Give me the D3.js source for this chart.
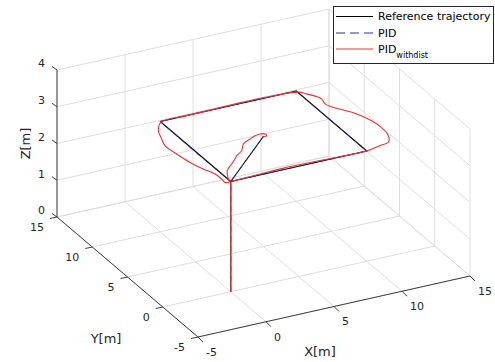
<!DOCTYPE html>
<html>
<head>
<meta charset="utf-8">
<script src="https://cdn.jsdelivr.net/npm/d3@7"></script>
<style>
  html, body { margin: 0; padding: 0; background: #fff; }
  svg { display: block; font-family: "DejaVu Sans", sans-serif; }
</style>
</head>
<body>
<svg id="chart" width="495" height="362"></svg>
<script>
// Axis ranges and tick values
const xTicks = [-5, 0, 5, 10, 15];
const yTicks = [-5, 0, 5, 10, 15];
const zTicks = [0, 1, 2, 3, 4];

// Reference trajectory: take-off, square at 3 m, then to the centre
const refX = [0, 0, 10, 10, 0, 0, 5];
const refY = [0, 0, 0, 10, 10, 0, 5];
const refZ = [0, 3, 3, 3, 3, 3, 3];

// PID tracking (no disturbance)
const pidX = [0, 0, 5, 10.05, 10, 10, 5, 0, -0.05, 0, 0, 2.5, 5];
const pidY = [0, 0, 0.02, 0, 0.05, 10, 10.03, 10, 5, 0, 0, 2.5, 5];
const pidZ = [0, 3, 3, 3, 3, 3, 3, 3, 3, 3, 3, 3, 3];

// PID tracking with disturbance: climb, then the horizontal flight
const climbX = [0, 0];
const climbY = [0, 0];
const climbZ = [0, 3];
const distX = [0, 2, 4, 6, 8, 10, 11.14, 11.85, 12.31, 12.43, 11.95, 11.03, 10.79, 10.94, 10.81, 10.41, 10.03,
  8, 6, 4, 2, 0, -0.74, -1.11, -1.38, -1.27, -1.07, -0.74, -0.40, -0.36, -0.40, -0.1,
  0.03, 0.54, 1.25, 1.70, 2.11, 2.74, 3.30, 4.03, 4.55, 4.95, 5.25, 5.23, 4.88];
const distY = [0, 0.1, 0.2, 0.15, 0.05, 0, 0.32, 0.51, 1.40, 3.28, 5.19, 6.77, 7.45, 8.21, 8.66, 9.31, 9.80,
  10.05, 10.1, 10.05, 10, 9.9, 8.84, 7.65, 6.67, 5.22, 3.72, 2.46, 1.45, 0.60, 0.05, 0.0,
  0.40, 1.53, 2.28, 2.75, 3.23, 3.74, 4.58, 5.04, 5.33, 5.41, 5.26, 4.98, 4.88];
const distZ = [3, 3, 3, 3, 3, 3, 3, 3, 3, 3, 3, 3, 3, 3, 3, 3, 3,
  3, 3, 3, 3, 3, 3, 3, 3, 3, 3, 3, 3, 3, 3, 3,
  3, 3, 3, 3, 3, 3, 3, 3, 3, 3, 3, 3, 3];

// Legend entries
const legendLabels = ["Reference trajectory", "PID", "PID"];

const svg = d3.select("#chart");

// Normalised axis scales and the projected box vectors
const sx = d3.scaleLinear().domain([-5, 15]).range([0, 1]);
const sy = d3.scaleLinear().domain([-5, 15]).range([0, 1]);
const sz = d3.scaleLinear().domain([0, 4]).range([0, 1]);
const O = [198, 337], AX = [272, -61], AY = [-141, -120], AZ = [0, -147];
function proj(x, y, z) {
  const u = sx(x), v = sy(y), w = sz(z);
  return [O[0] + u * AX[0] + v * AY[0] + w * AZ[0], O[1] + u * AX[1] + v * AY[1] + w * AZ[1]];
}
const line = d3.line();
const curve = d3.line().curve(d3.curveCatmullRom.alpha(0.5));

// Grid on floor and the two back walls
const grid = [];
xTicks.forEach(t => { grid.push([[t, -5, 0], [t, 15, 0]]); grid.push([[t, 15, 0], [t, 15, 4]]); });
yTicks.forEach(t => { grid.push([[-5, t, 0], [15, t, 0]]); grid.push([[15, t, 0], [15, t, 4]]); });
zTicks.forEach(t => { grid.push([[-5, 15, t], [15, 15, t]]); grid.push([[15, -5, t], [15, 15, t]]); });
svg.append("g").selectAll("path").data(grid).join("path")
  .attr("d", s => line(s.map(p => proj(...p))))
  .attr("fill", "none").attr("stroke", "#dedede").attr("stroke-width", 1);

// Axis lines
const axisCol = "#404040";
const axes = [[[-5, -5, 0], [15, -5, 0]], [[-5, -5, 0], [-5, 15, 0]], [[-5, 15, 0], [-5, 15, 4]]];
svg.append("g").selectAll("path").data(axes).join("path")
  .attr("d", s => line(s.map(p => proj(...p))))
  .attr("fill", "none").attr("stroke", axisCol).attr("stroke-width", 1);

const tickFont = 11;
const gt = svg.append("g").attr("fill", "#262626").attr("font-size", tickFont);
// X ticks
xTicks.forEach(t => {
  const [px, py] = proj(t, -5, 0);
  svg.append("line").attr("x1", px).attr("y1", py).attr("x2", px + 5).attr("y2", py + 5).attr("stroke", axisCol);
  gt.append("text").attr("x", px + 8).attr("y", py + 15).attr("dy", "0.35em").text(t);
});
// Y ticks
yTicks.forEach(t => {
  const [px, py] = proj(-5, t, 0);
  svg.append("line").attr("x1", px).attr("y1", py).attr("x2", px - 7).attr("y2", py + 1.5).attr("stroke", axisCol);
  gt.append("text").attr("x", px - 13).attr("y", py + 10.5).attr("dy", "0.35em").attr("text-anchor", "end").text(t);
});
// Z ticks
zTicks.forEach(t => {
  const [px, py] = proj(-5, 15, t);
  svg.append("line").attr("x1", px).attr("y1", py).attr("x2", px - 5).attr("y2", py - 3.5).attr("stroke", axisCol);
  gt.append("text").attr("x", px - 12).attr("y", py - 6.5).attr("dy", "0.35em").attr("text-anchor", "end").text(t);
});

// Axis titles
const labFont = 13;
const xm = proj(5, -5, 0), ym = proj(-5, 5, 0), zm = proj(-5, 15, 2);
gt.append("text").attr("x", xm[0] - 14).attr("y", xm[1] + 44.5).attr("dy", "0.35em")
  .attr("text-anchor", "middle").attr("font-size", labFont).text("X[m]");
gt.append("text").attr("x", ym[0] - 21.5).attr("y", ym[1] + 61).attr("dy", "0.35em")
  .attr("text-anchor", "middle").attr("font-size", labFont).text("Y[m]");
gt.append("text").attr("transform", `translate(${zm[0] - 32},${zm[1]}) rotate(-90)`).attr("dy", "0.35em")
  .attr("text-anchor", "middle").attr("font-size", labFont).text("Z[m]");

// Data series
const toPts = (xs, ys, zs) => xs.map((x, i) => proj(x, ys[i], zs[i]));
const refColor = "#000000", pidColor = "#2a2ab8", distColor = "#e8322f";

svg.append("path").attr("d", line(toPts(refX, refY, refZ)))
  .attr("fill", "none").attr("stroke", refColor).attr("stroke-width", 1.1).attr("stroke-linejoin", "round");
svg.append("path").attr("d", line(toPts(pidX, pidY, pidZ)))
  .attr("fill", "none").attr("stroke", pidColor).attr("stroke-width", 0.9)
  .attr("stroke-dasharray", "6,4").attr("stroke-linejoin", "round");
svg.append("path").attr("d", line(toPts(climbX, climbY, climbZ)))
  .attr("fill", "none").attr("stroke", distColor).attr("stroke-width", 1.1);
svg.append("path").attr("d", curve(toPts(distX, distY, distZ)))
  .attr("fill", "none").attr("stroke", distColor).attr("stroke-width", 1.1).attr("stroke-linejoin", "round");

// Legend
const legendColors = [refColor, pidColor, distColor];
const lg = svg.append("g");
lg.append("rect").attr("x", 333.5).attr("y", 6.5).attr("width", 160).attr("height", 57)
  .attr("fill", "#fff").attr("stroke", "#262626").attr("stroke-width", 1);
const rowY = [16.5, 33, 49];
legendLabels.forEach((lab, i) => {
  lg.append("line").attr("x1", 336).attr("x2", 373).attr("y1", rowY[i]).attr("y2", rowY[i])
    .attr("stroke", legendColors[i]).attr("stroke-width", 1).attr("stroke-dasharray", i === 1 ? "9,5" : null);
  const t = lg.append("text").attr("x", 378).attr("y", rowY[i]).attr("dy", "0.35em")
    .attr("font-size", 11).attr("fill", "#000").text(lab);
  if (i === 2) t.append("tspan").attr("font-size", 8).attr("dy", 5).text("withdist");
});
</script>
</body>
</html>
